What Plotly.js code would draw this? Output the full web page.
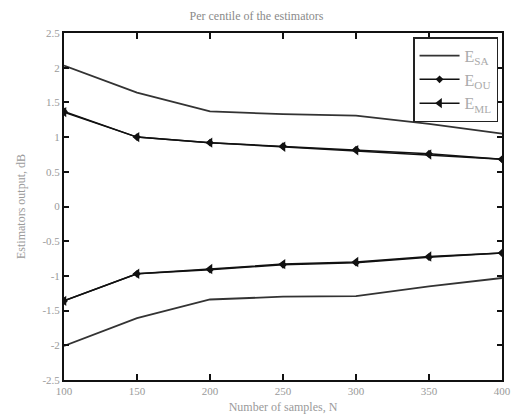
<!DOCTYPE html>
<html><head><meta charset="utf-8">
<script src="https://cdn.plot.ly/plotly-3.0.1.min.js"></script>
<style>html,body{margin:0;padding:0;background:#fff}#chart{width:513px;height:418px}</style>
</head><body><div id="chart"></div>
<script>
const samplesN = [100, 150, 200, 250, 300, 350, 400];
const saUpper = [2.03, 1.64, 1.37, 1.33, 1.31, 1.19, 1.05];
const saLower = [-2.01, -1.61, -1.34, -1.30, -1.29, -1.15, -1.03];
const ouUpper = [1.37, 1.00, 0.92, 0.87, 0.82, 0.76, 0.68];
const ouLower = [-1.36, -0.97, -0.91, -0.84, -0.81, -0.73, -0.67];
const mlUpper = [1.36, 1.00, 0.92, 0.86, 0.81, 0.75, 0.68];
const mlLower = [-1.36, -0.97, -0.90, -0.83, -0.80, -0.72, -0.67];
const yTicks = [-2.5, -2, -1.5, -1, -0.5, 0, 0.5, 1, 1.5, 2, 2.5];
const xTicks = [100, 150, 200, 250, 300, 350, 400];

const lineCol = '#111';
const traces = [
  {x: samplesN, y: saUpper, name: 'E<sub>SA</sub>', legendgroup: 'sa', mode: 'lines',
   line: {color: '#333', width: 1.8}},
  {x: samplesN, y: saLower, name: 'E<sub>SA</sub>', legendgroup: 'sa', showlegend: false, mode: 'lines',
   line: {color: '#333', width: 1.8}},
  {x: samplesN, y: ouUpper, name: 'E<sub>OU</sub>', legendgroup: 'ou', mode: 'lines+markers',
   line: {color: lineCol, width: 1.5}, marker: {symbol: 'diamond', size: 6, color: lineCol}},
  {x: samplesN, y: ouLower, name: 'E<sub>OU</sub>', legendgroup: 'ou', showlegend: false, mode: 'lines+markers',
   line: {color: lineCol, width: 1.5}, marker: {symbol: 'diamond', size: 6, color: lineCol}},
  {x: samplesN, y: mlUpper, name: 'E<sub>ML</sub>', legendgroup: 'ml', mode: 'lines+markers',
   line: {color: lineCol, width: 1.5}, marker: {symbol: 'triangle-left', size: 9, color: lineCol}},
  {x: samplesN, y: mlLower, name: 'E<sub>ML</sub>', legendgroup: 'ml', showlegend: false, mode: 'lines+markers',
   line: {color: lineCol, width: 1.5}, marker: {symbol: 'triangle-left', size: 9, color: lineCol}}
];

const layout = {
  width: 513, height: 418,
  margin: {l: 64, r: 11, t: 33, b: 38},
  paper_bgcolor: '#fff', plot_bgcolor: '#fff',
  font: {family: 'Liberation Serif, serif', color: '#9a9a9a', size: 11},
  title: {text: 'Per centile of the estimators', x: 0.5, xanchor: 'center', y: 0.962, yanchor: 'middle',
          font: {size: 12, color: '#8a8a8a'}},
  showlegend: true,
  legend: {x: 0.991, xanchor: 'right', y: 0.988, yanchor: 'top', bgcolor: '#fff',
           bordercolor: '#222', borderwidth: 1.5, font: {size: 16, color: '#aaa'},
           itemwidth: 40, tracegroupgap: 0},
  xaxis: {range: [100, 400], tickvals: xTicks, ticktext: xTicks.map(String), ticks: 'inside',
          ticklen: 6, tickwidth: 2, tickcolor: '#111', showline: true, linecolor: '#111', linewidth: 2,
          mirror: 'ticks', showgrid: false, zeroline: false,
          title: {text: 'Number of samples, N', standoff: 6, font: {size: 12, color: '#9a9a9a'}}},
  yaxis: {range: [-2.5, 2.5], tickvals: yTicks, ticktext: yTicks.map(String), ticks: 'inside',
          ticklen: 5, tickwidth: 2, tickcolor: '#111', showline: true, linecolor: '#111', linewidth: 2,
          mirror: 'ticks', showgrid: false, zeroline: false,
          title: {text: 'Estimators output, dB', standoff: 14, font: {size: 12, color: '#9a9a9a'}}}
};
Plotly.newPlot('chart', traces, layout, {displayModeBar: false, staticPlot: true});
</script></body></html>
